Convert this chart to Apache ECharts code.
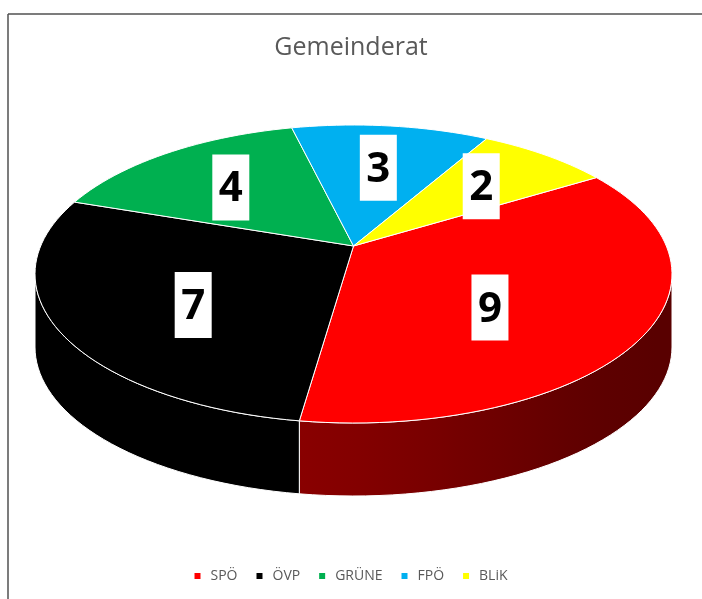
<!DOCTYPE html>
<html>
<head>
<meta charset="utf-8">
<script src="https://cdn.jsdelivr.net/npm/echarts@6/dist/echarts.min.js"></script>
<style>
  html, body { margin: 0; padding: 0; background: #fff; }
  #chart { width: 702px; height: 599px; }
</style>
</head>
<body>
<div id="chart"></div>
<script>
const parties = ["SPÖ", "ÖVP", "GRÜNE", "FPÖ", "BLiK"];
const seats = [9, 7, 4, 3, 2];
const colors = ["#ff0000", "#000000", "#00b050", "#00b0f0", "#ffff00"];

// tilted pie: ellipse of the top face, perspective shift of the centre, slab height
const pie = { cx: 353.5, cy: 274, rx: 318.5, ry: 149, persp: -0.188, depth: 73, start: -31.5 };

const total = seats.reduce((a, b) => a + b, 0);
const startAngles = [];
let acc = 0;
seats.forEach(v => { startAngles.push(pie.start + acc / total * 360); acc += v; });

// point on the pie plane (angle in degrees, clockwise on screen; r 0..1) -> screen
function project(deg, r, drop) {
  const a = deg * Math.PI / 180;
  const x = r * Math.cos(a), y = r * Math.sin(a);
  const t = pie.persp;
  const k = 1 + t * y;
  return [pie.cx + pie.rx * x * Math.sqrt(1 - t * t) / k,
          pie.cy + pie.ry * (y + t) / k + (drop || 0)];
}

function arc(a0, a1, drop) {
  const pts = [];
  const n = Math.max(2, Math.ceil(Math.abs(a1 - a0) / 2));
  for (let s = 0; s <= n; s++) pts.push(project(a0 + (a1 - a0) * s / n, 1, drop));
  return pts;
}

function shade(hex, deg) {
  const c = parseInt(hex.slice(1), 16);
  const f = 0.35 + 0.2 * Math.pow(Math.max(0, Math.cos((deg - 110) * Math.PI / 180)), 3);
  return "rgb(" + [(c >> 16) & 255, (c >> 8) & 255, c & 255].map(v => Math.round(v * f)).join(",") + ")";
}

function centroid(pts) {
  let A = 0, x = 0, y = 0;
  for (let i = 0; i < pts.length; i++) {
    const p = pts[i], q = pts[(i + 1) % pts.length];
    const cr = p[0] * q[1] - q[0] * p[1];
    A += cr; x += (p[0] + q[0]) * cr; y += (p[1] + q[1]) * cr;
  }
  return [x / (3 * A), y / (3 * A)];
}

const wallFrom = Math.asin(-pie.persp) * 180 / Math.PI;
const wallTo = 180 - wallFrom;

function sliceItem(i) {
  return function (params, api) {
    const a0 = startAngles[i];
    const a1 = a0 + api.value(0) / total * 360;
    const children = [];
    for (let k = -1; k <= 1; k++) {
      const w0 = Math.max(a0, wallFrom + 360 * k), w1 = Math.min(a1, wallTo + 360 * k);
      if (w1 <= w0) continue;
      const top = arc(w0, w1, 0);
      const bottom = arc(w1, w0, pie.depth);
      const xs = top.map(p => p[0]);
      const xmin = Math.min.apply(null, xs), xmax = Math.max.apply(null, xs);
      const stops = [];
      for (let s = 0; s <= 10; s++) {
        const d = w0 + (w1 - w0) * s / 10;
        stops.push({ offset: (project(d, 1)[0] - xmin) / (xmax - xmin), color: shade(colors[i], d) });
      }
      stops.sort((p, q) => p.offset - q.offset);
      children.push({
        type: "polygon",
        shape: { points: top.concat(bottom) },
        style: {
          fill: new echarts.graphic.LinearGradient(xmin, 0, xmax, 0, stops, true),
          stroke: "#ffffff", lineWidth: 1
        }
      });
    }
    children.push({
      type: "polygon",
      shape: { points: [project(0, 0)].concat(arc(a0, a1, 0)) },
      style: { fill: colors[i], stroke: "#ffffff", lineWidth: 1 }
    });
    return { type: "group", children: children };
  };
}

function labelItem(params, api) {
  const i = api.value(1);
  const a0 = startAngles[i];
  const a1 = a0 + api.value(0) / total * 360;
  const c = centroid([project(0, 0)].concat(arc(a0, a1, 0)));
  return {
    type: "group",
    children: [
      { type: "rect", shape: { x: c[0] - 18.5, y: c[1] - 33, width: 37, height: 66 }, style: { fill: "#ffffff" } },
      { type: "text", x: c[0], y: c[1] + 2,
        style: { text: String(api.value(0)), fill: "#000000", align: "center", verticalAlign: "middle",
                 font: "bold 42px 'Open Sans', sans-serif" } }
    ]
  };
}

const series = parties.map((name, i) => ({
  type: "custom",
  name: name,
  coordinateSystem: "none",
  itemStyle: { color: colors[i] },
  data: [seats[i]],
  renderItem: sliceItem(i),
  z: 2
}));
series.push({
  type: "custom",
  name: "labels",
  coordinateSystem: "none",
  silent: true,
  data: seats.map((v, i) => [v, i]),
  renderItem: labelItem,
  z: 5
});

const chart = echarts.init(document.getElementById("chart"));
chart.setOption({
  animation: false,
  color: colors,
  title: {
    text: "Gemeinderat",
    left: "center",
    top: 30,
    padding: [5, 5, 5, 16],
    textStyle: { fontFamily: "Open Sans", fontSize: 25, fontWeight: "normal", color: "#595959" }
  },
  legend: {
    data: parties,
    bottom: 11,
    left: "center",
    padding: [5, 5, 5, 17],
    icon: "rect",
    itemWidth: 6,
    itemHeight: 6,
    itemGap: 19,
    textStyle: { fontFamily: "Open Sans", fontSize: 14, color: "#595959", padding: [0, 0, 0, 5] }
  },
  graphic: [
    { type: "line", shape: { x1: 8, y1: 14, x2: 702, y2: 14 }, style: { stroke: "#505050", lineWidth: 1.5 } },
    { type: "line", shape: { x1: 8, y1: 14, x2: 8, y2: 599 }, style: { stroke: "#505050", lineWidth: 1.5 } }
  ],
  series: series
});
</script>
</body>
</html>
